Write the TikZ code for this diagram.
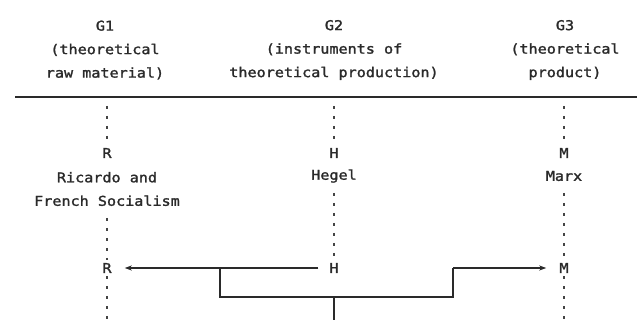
\documentclass[tikz,border=0pt]{standalone}
\usepackage{fontspec}
\usetikzlibrary{arrows.meta}
\newfontfamily\diagfont[FakeStretch=1.12,FakeBold=1.6]{DejaVu Sans Mono}
\definecolor{ink}{HTML}{2A2A2A}
\definecolor{dotc}{HTML}{444444}
\begin{document}
\begin{tikzpicture}[x=1pt,y=-1pt,
  lbl/.style={font=\diagfont\fontsize{13.5}{23.5}\selectfont, text=ink, align=center, inner sep=3pt},
  rulel/.style={draw=ink, line width=1.3pt},
  dots/.style={draw=dotc, line width=1.4pt, dash pattern=on 3pt off 7pt},
  solid line/.style={draw=ink, line width=1.4pt},
  arr/.style={draw=ink, line width=1.4pt, -{Stealth[length=7pt,width=5pt,inset=2pt]}}]
\useasboundingbox (0,0) rectangle (637,320);
\fill[white] (0,0) rectangle (637,320);
% headers
\node[lbl] (g1) at (105,50) {G1\\(theoretical\\raw material)};
\node[lbl] (g2) at (334,50) {G2\\(instruments of\\theoretical production)};
\node[lbl] (g3) at (565,50) {G3\\(theoretical\\product)};
\coordinate (rl) at (15,97);
\coordinate (rr) at (637,97);
\draw[rulel] (rl) -- (rr);
% column labels
\node[lbl] (r1) at (107,153) {R};
\node[lbl] (ric) at (107,189) {Ricardo and\\French Socialism};
\node[lbl] (h1) at (334,153) {H};
\node[lbl] (heg) at (334,176) {Hegel};
\node[lbl] (m1) at (564,153) {M};
\node[lbl] (mar) at (564,176) {Marx};
\node[lbl] (r2) at (107,268) {R};
\node[lbl] (h2) at (334,268) {H};
\node[lbl] (m2) at (564,268) {M};
% dotted guides
\coordinate (c1t) at (107,106);
\coordinate (c2t) at (334,106);
\coordinate (c3t) at (564,106);
\coordinate (c1m) at (107,218);
\coordinate (c2m) at (334,193);
\coordinate (c3m) at (564,193);
\coordinate (c1b) at (107,320);
\coordinate (c3b) at (564,320);
\draw[dots] (c1t) -- (r1.north);
\draw[dots] (c2t) -- (h1.north);
\draw[dots] (c3t) -- (m1.north);
\draw[dots] (c1m) -- (r2.north);
\draw[dots] (c2m) -- (h2.north);
\draw[dots] (c3m) -- (m2.north);
\draw[dots] (r2.south) -- (c1b);
\draw[dots] (m2.south) -- (c3b);
% arrows and bracket
\draw[arr, shorten <=8pt, shorten >=10pt] (h2) -- (r2);
\coordinate (b1) at (220,268);
\coordinate (b2) at (220,297);
\coordinate (b3) at (453,297);
\coordinate (b4) at (453,268);
\coordinate (st) at (334,297);
\coordinate (sb) at (334,320);
\draw[solid line] (b1) -- (b2) -- (b3) -- (b4);
\draw[arr, shorten >=10pt] (b4) -- (m2);
\draw[solid line] (st) -- (sb);
\end{tikzpicture}
\end{document}
